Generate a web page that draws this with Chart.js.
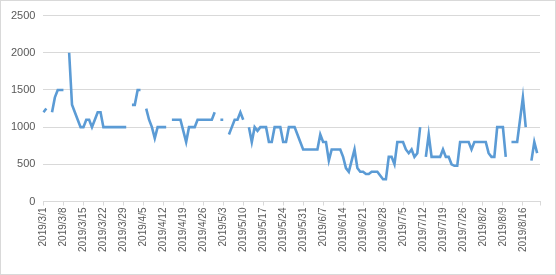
<!DOCTYPE html>
<html>
<head>
<meta charset="utf-8">
<script src="https://cdn.jsdelivr.net/npm/chart.js@4"></script>
<style>
  html, body { margin: 0; padding: 0; background: #fff; }
  #wrap { width: 554px; height: 273px; border: 1px solid #d9d9d9; position: relative; }
</style>
</head>
<body>
<div id="wrap"><canvas id="chart"></canvas></div>
<script>
// Daily categories, 2019/3/1 .. 2019/8/22
const startDate = new Date(2019, 2, 1)
const dayCount = 175
const days = []
for (let i = 0; i < dayCount; i++) {
  const d = new Date(startDate.getFullYear(), startDate.getMonth(), startDate.getDate() + i)
  days.push(`${d.getFullYear()}/${d.getMonth() + 1}/${d.getDate()}`)
}

// One value per day (null = gap)
const prices = [
  1200, 1250, null, 1200, 1400, 1500, 1500,   // 3/1
  1500, null, 2000, 1300, 1200, 1100, 1000,   // 3/8
  1000, 1100, 1100, 1000, 1100, 1200, 1200,   // 3/15
  1000, 1000, 1000, 1000, 1000, 1000, 1000,   // 3/22
  1000, 1000, null, 1300, 1300, 1500, 1500,   // 3/29
  null, 1250, 1100, 1000, 850, 1000, 1000,    // 4/5
  1000, 1000, null, 1100, 1100, 1100, 1100,   // 4/12
  950, 800, 1000, 1000, 1000, 1100, 1100,     // 4/19
  1100, 1100, 1100, 1100, 1200, null, 1100,   // 4/26
  1100, null, 900, 1000, 1100, 1100, 1200,    // 5/3
  1100, null, 1000, 800, 1000, 950, 1000,     // 5/10
  1000, 1000, 800, 800, 1000, 1000, 1000,     // 5/17
  800, 800, 1000, 1000, 1000, 900, 800,       // 5/24
  700, 700, 700, 700, 700, 700, 900,          // 5/31
  800, 800, 550, 700, 700, 700, 700,          // 6/7
  600, 450, 400, 550, 700, 450, 400,          // 6/14
  400, 370, 370, 400, 400, 400, 350,          // 6/21
  300, 300, 600, 600, 500, 800, 800,          // 6/28
  800, 700, 650, 700, 600, 650, 1000,         // 7/5
  null, 600, 900, 600, 600, 600, 600,         // 7/12
  700, 600, 600, 500, 480, 480, 800,          // 7/19
  800, 800, 800, 700, 800, 800, 800,          // 7/26
  800, 800, 650, 600, 600, 1000, 1000,        // 8/2
  1000, 600, null, 800, 800, 800, 1100,       // 8/9
  1400, 1000, null, 550, 800, 650, null       // 8/16
]

const yTicks = [0, 500, 1000, 1500, 2000, 2500]

const lineColor = "#5b9bd5"
const gridColor = "#d9d9d9"
const textColor = "#595959"

const showTick = (i) => i % 7 === 0 || i === dayCount - 1

new Chart(document.getElementById("chart"), {
  type: "line",
  data: {
    labels: days,
    datasets: [{
      data: prices,
      borderColor: lineColor,
      borderWidth: 2.6,
      pointRadius: 0,
      tension: 0,
      spanGaps: false,
      fill: false,
    }]
  },
  options: {
    responsive: true,
    maintainAspectRatio: false,
    animation: false,
    layout: { padding: { left: 2, right: 15, top: 8, bottom: 20 } },
    plugins: {
      legend: { display: false },
      tooltip: { enabled: false }
    },
    scales: {
      x: {
        offset: false,
        border: { display: true, color: gridColor },
        grid: {
          drawOnChartArea: false,
          drawTicks: true,
          tickLength: 4,
          tickColor: (ctx) => showTick(ctx.index) ? gridColor : "rgba(0,0,0,0)",
        },
        ticks: {
          autoSkip: false,
          minRotation: 90,
          maxRotation: 90,
          padding: 2,
          color: textColor,
          font: { family: "Liberation Sans", size: 10 },
          callback: (v, i) => i % 7 === 0 ? days[i] : "",
        }
      },
      y: {
        min: yTicks[0],
        max: yTicks[yTicks.length - 1],
        border: { display: false },
        grid: { color: gridColor, drawTicks: false },
        afterBuildTicks: (axis) => { axis.ticks = yTicks.map(v => ({ value: v })) },
        ticks: {
          padding: 8,
          color: textColor,
          font: { family: "Liberation Sans", size: 11 },
          callback: (v) => String(v),
        }
      }
    }
  }
})
</script>
</body>
</html>
